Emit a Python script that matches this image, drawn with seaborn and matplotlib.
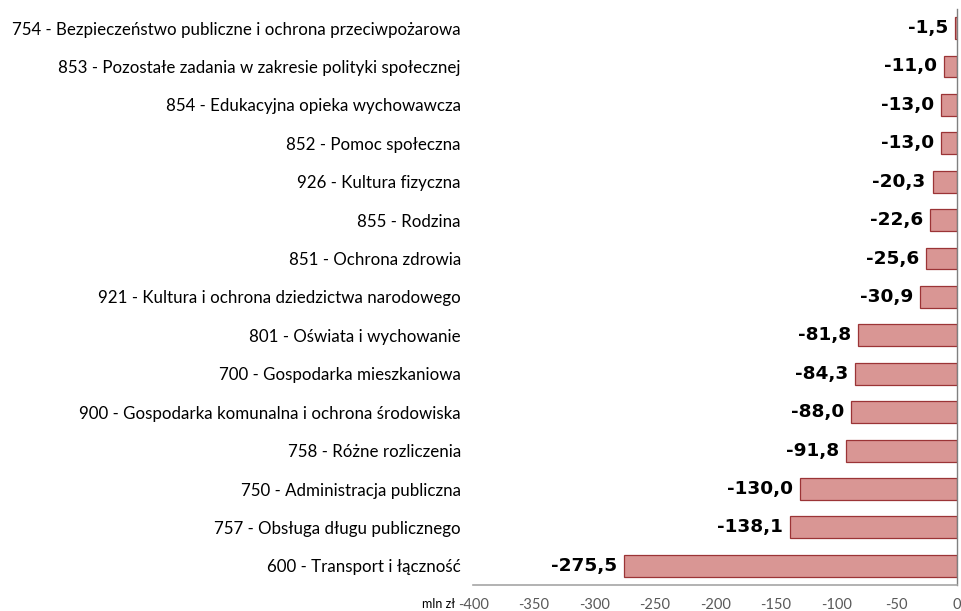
import seaborn as sns
import matplotlib.pyplot as plt
import pandas as pd

sns.set_style("white")
plt.rcParams['font.family'] = ['Lato', 'DejaVu Sans']

categories = [
    "754 - Bezpieczeństwo publiczne i ochrona przeciwpożarowa",
    "853 - Pozostałe zadania w zakresie polityki społecznej",
    "854 - Edukacyjna opieka wychowawcza",
    "852 - Pomoc społeczna",
    "926 - Kultura fizyczna",
    "855 - Rodzina",
    "851 - Ochrona zdrowia",
    "921 - Kultura i ochrona dziedzictwa narodowego",
    "801 - Oświata i wychowanie",
    "700 - Gospodarka mieszkaniowa",
    "900 - Gospodarka komunalna i ochrona środowiska",
    "758 - Różne rozliczenia",
    "750 - Administracja publiczna",
    "757 - Obsługa długu publicznego",
    "600 - Transport i łączność",
]
values = [-1.5, -11.0, -13.0, -13.0, -20.3, -22.6, -25.6, -30.9,
          -81.8, -84.3, -88.0, -91.8, -130.0, -138.1, -275.5]
xticks = [-400, -350, -300, -250, -200, -150, -100, -50, 0]

df = pd.DataFrame({"kategoria": categories, "wartosc": values})

fig = plt.figure(figsize=(9.62, 6.11), dpi=100)
ax = fig.add_axes([0.492, 0.0425, 0.503, 0.943])

sns.barplot(data=df, x="wartosc", y="kategoria", orient="h", ax=ax,
            color="#D99694", edgecolor="#9B3436", linewidth=0.9,
            width=0.57, saturation=1)

# etykiety wartości po lewej stronie słupka
for i, v in enumerate(values):
    ax.annotate(f"{v:.1f}".replace(".", ","), xy=(v, i), xytext=(-5, 0),
                textcoords="offset points", ha="right", va="center",
                fontsize=13.3, fontweight="bold", family="DejaVu Sans",
                color="black")

ax.set_xlim(-400, 0)
ax.set_xticks(xticks)
ax.set_xticklabels([str(t) for t in xticks])
ax.set_xlabel("")
ax.set_ylabel("")
ax.tick_params(axis="x", colors="#595959", labelsize=10.5, length=0, pad=9)
ax.tick_params(axis="y", labelsize=12.2, length=0, pad=9, labelcolor="black")

for s in ["top", "left"]:
    ax.spines[s].set_visible(False)
ax.spines["right"].set_color("#808080")
ax.spines["right"].set_linewidth(1)
ax.spines["bottom"].set_color("#A6A6A6")
ax.spines["bottom"].set_linewidth(1.2)

ax.annotate("mln zł", xy=(-400, 0), xycoords=("data", "axes fraction"),
            xytext=(-13, -13.5), textcoords="offset points",
            ha="right", va="center", fontsize=9, color="black")

fig.savefig("out.png", dpi=100)
